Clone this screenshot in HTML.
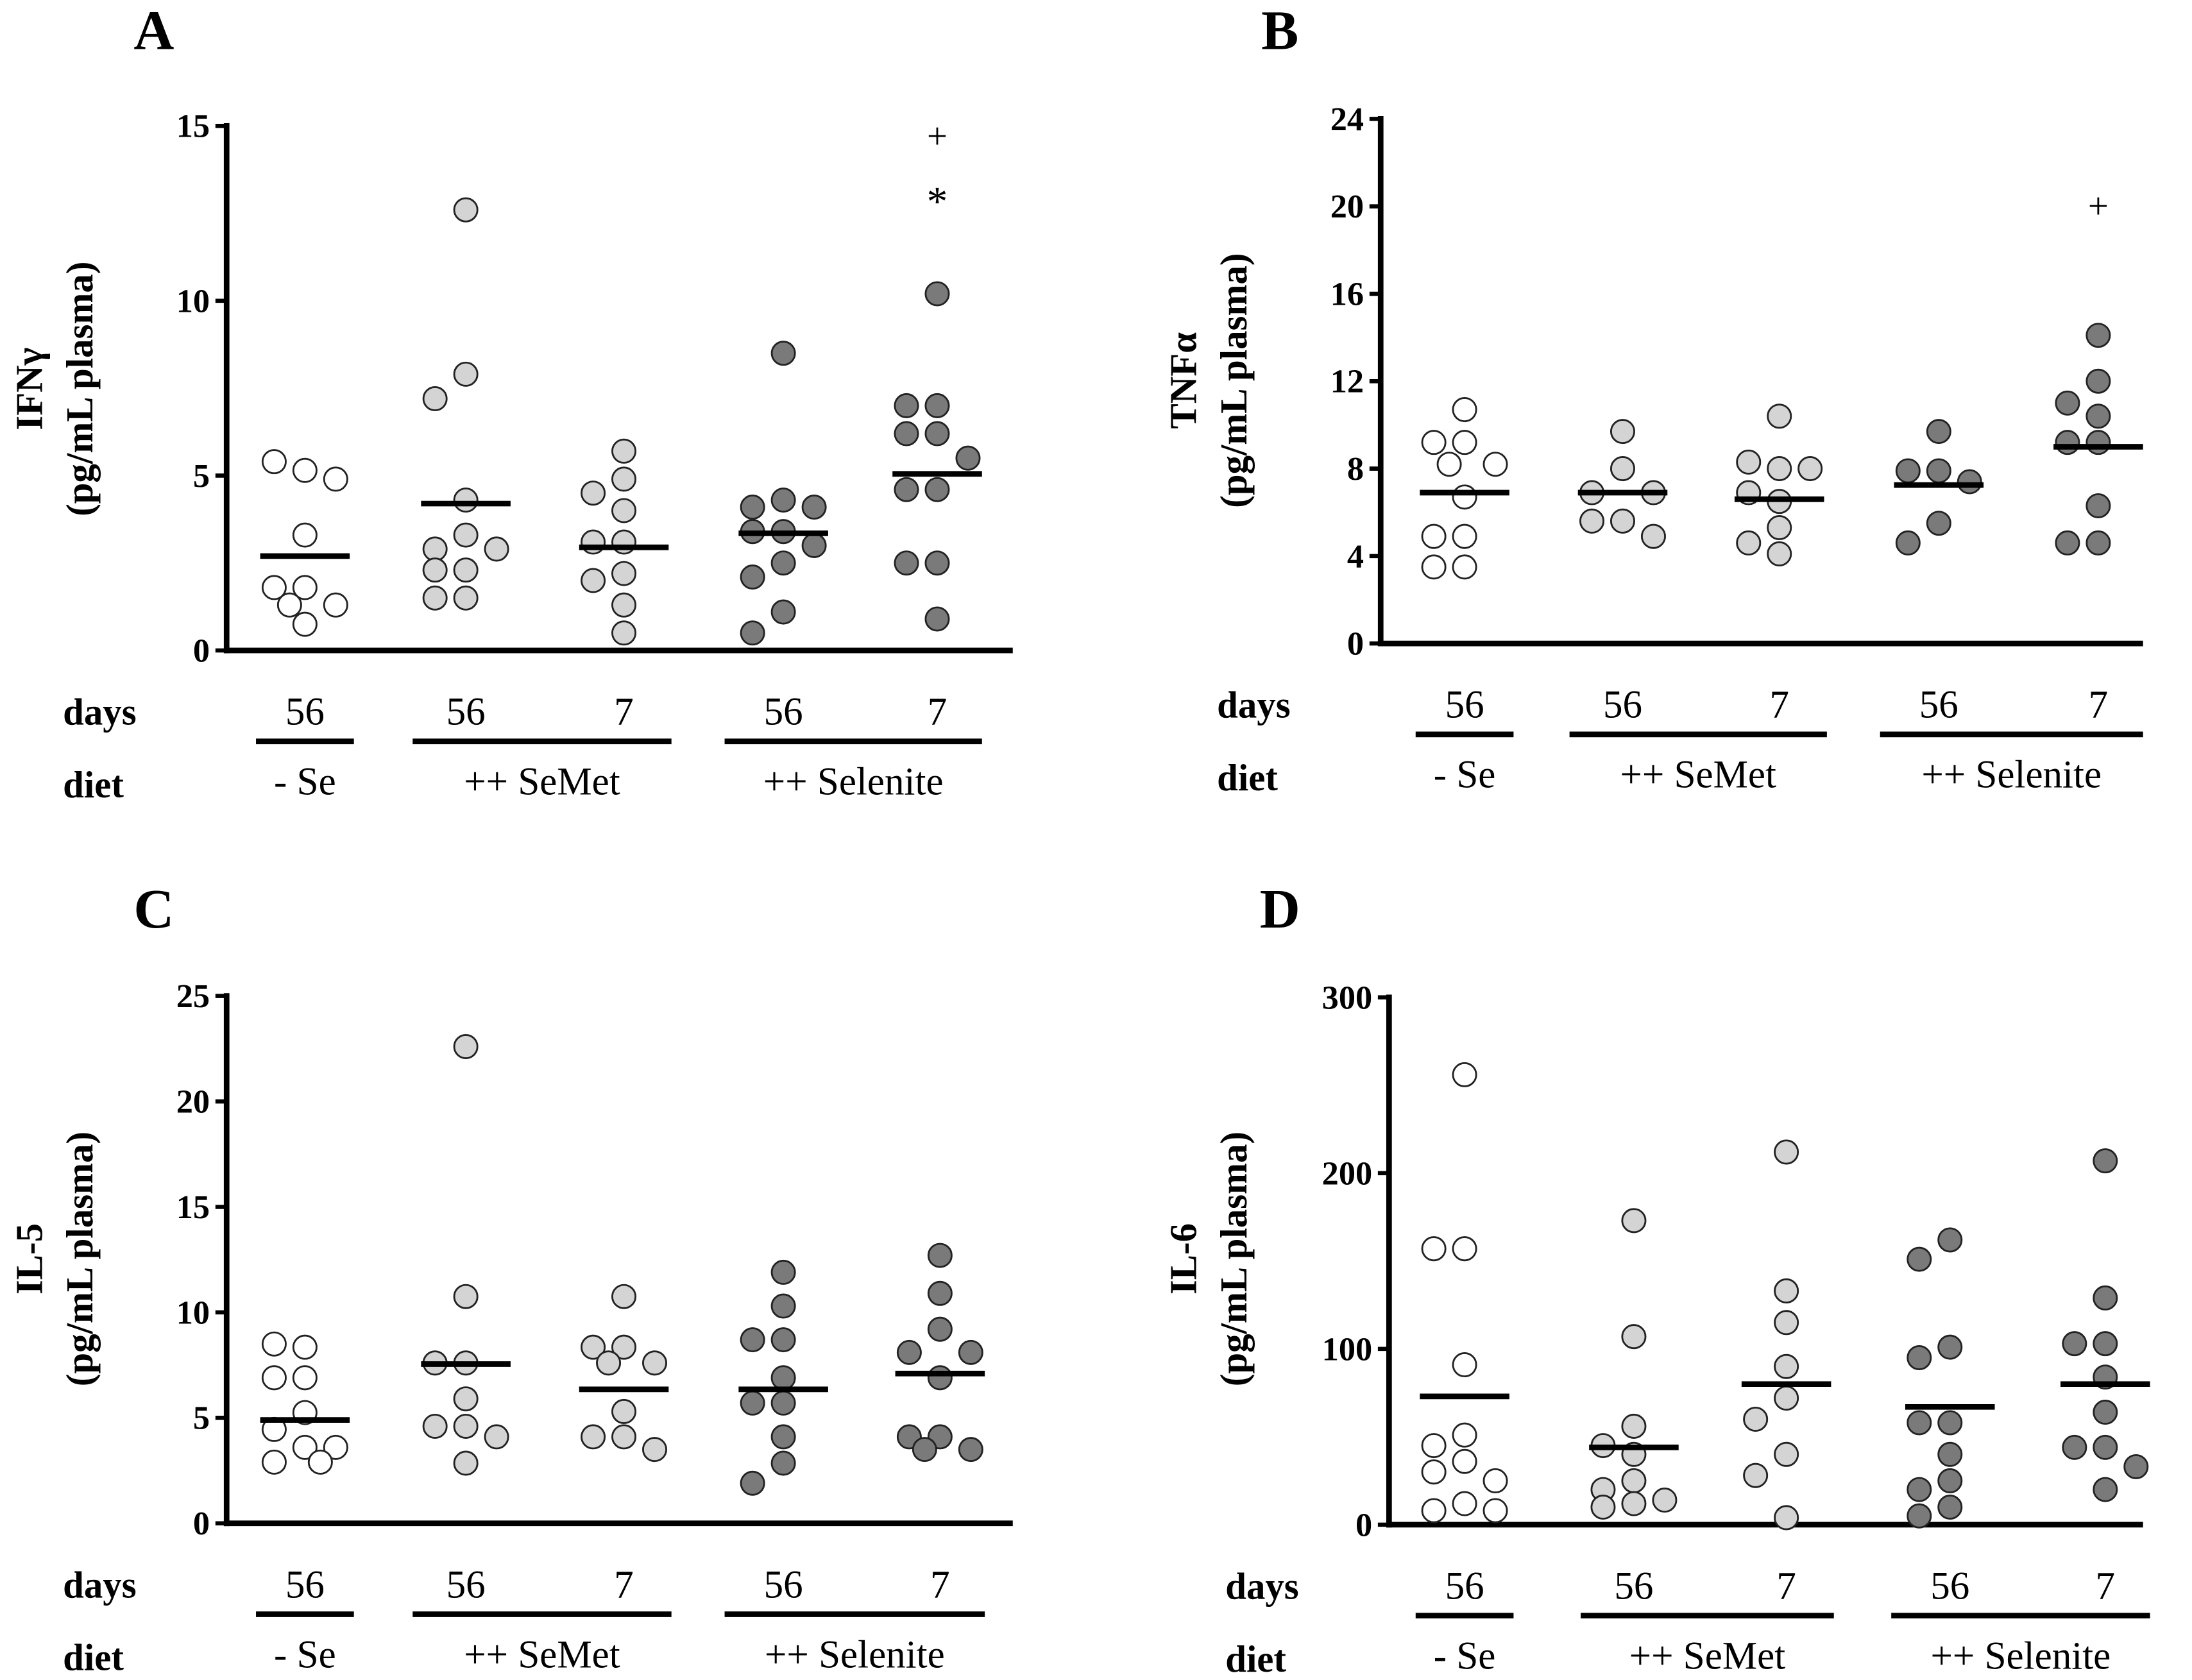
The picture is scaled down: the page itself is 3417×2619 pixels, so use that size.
<!DOCTYPE html>
<html><head><meta charset="utf-8"><style>
html,body{margin:0;padding:0;background:#fff}
svg{display:block}
text{font-family:"Liberation Serif","DejaVu Serif",serif;fill:#000}
</style></head><body>
<svg id="fig" width="3417" height="2619" viewBox="0 0 1567 1201" xmlns="http://www.w3.org/2000/svg"></svg>
<script>
// ---- data ----
const groupsDays = ["56","56","7","56","7"];
const fillKinds = [0,1,1,2,2];
const kindFill = ["#ffffff","#d4d4d4","#7a7a7a"];

const ifnValues = [
  [5.15,5.4,4.9,3.3,1.8,1.8,1.3,1.3,0.75],
  [12.6,7.9,7.2,4.3,3.3,2.9,2.9,2.3,2.3,1.5,1.5],
  [5.7,4.9,4.5,4.0,3.1,3.1,2.2,2.0,1.3,0.5],
  [8.5,4.3,4.1,4.1,3.4,3.4,2.5,2.1,1.1,0.5,3.0],
  [10.2,7.0,7.0,6.2,6.2,5.5,4.6,4.6,2.5,2.5,0.9]
];
const ifnMeans = [2.7,4.2,2.95,3.35,5.05];
const ifnTicks = [0,5,10,15];

const tnfValues = [
  [10.7,9.2,9.2,8.2,8.2,6.7,4.9,4.9,3.5,3.5],
  [9.7,8.0,6.9,6.9,5.6,5.6,4.9],
  [10.4,8.0,8.3,6.9,6.5,5.3,4.6,4.1,8.0],
  [9.7,7.9,7.9,7.4,5.5,4.6],
  [14.1,12.0,11.0,10.4,9.2,9.2,6.3,4.6,4.6]
];
const tnfMeans = [6.9,6.9,6.6,7.25,9.0];
const tnfTicks = [0,4,8,12,16,20,24];

const il5Values = [
  [8.35,8.5,6.9,6.9,5.25,4.45,3.6,3.6,2.9,2.9],
  [22.6,10.75,7.6,7.6,5.9,4.6,4.6,4.1,2.85],
  [10.75,8.35,8.35,7.6,7.6,5.3,4.1,4.1,3.5],
  [11.9,10.3,8.7,8.7,6.9,5.7,5.7,4.1,2.85,1.9],
  [12.7,10.9,9.2,8.1,8.1,6.9,4.1,4.1,3.5,3.5]
];
const il5Means = [4.9,7.55,6.35,6.35,7.1];
const il5Ticks = [0,5,10,15,20,25];

const il6Values = [
  [256,157,157,91,51,45,36,30,25,12,8,8],
  [173,107,56,45,40,25,20,14,12,10],
  [212,133,115,90,72,60,40,28,4],
  [162,151,101,95,58,58,40,25,20,10,5],
  [207,129,103,103,84,64,44,44,33,20]
];
const il6Means = [73,44,80,67,80];
const il6Ticks = [0,100,200,300];

const panels = [
  {letter:"A", title:"IFN\u03b3", vals:ifnValues, means:ifnMeans, ticks:ifnTicks, max:15,
   ax:162, top:90, bot:465, right:724, centers:[218,333,446,560,670], lx:110, ly:35, tx:30, ty:278,
   notes:[["+",98,4],["*",140,4]]},
  {letter:"B", title:"TNF\u03b1", vals:tnfValues, means:tnfMeans, ticks:tnfTicks, max:24,
   ax:987, top:85, bot:460, right:1532, centers:[1047,1160,1272,1386,1500], lx:915, ly:35, tx:855, ty:272,
   notes:[["+",148,4]]},
  {letter:"C", title:"IL-5", vals:il5Values, means:il5Means, ticks:il5Ticks, max:25,
   ax:162, top:712, bot:1089, right:724, centers:[218,333,446,560,672], lx:110, ly:663, tx:30, ty:900, notes:[]},
  {letter:"D", title:"IL-6", vals:il6Values, means:il6Means, ticks:il6Ticks, max:300,
   ax:993, top:713, bot:1090, right:1532, centers:[1047,1168,1277,1394,1505], lx:915, ly:663, tx:855, ty:900, notes:[]}
];

const NS="http://www.w3.org/2000/svg";
const svg=document.getElementById("fig");
function mk(tag,attrs,parent){const e=document.createElementNS(NS,tag);for(const k in attrs)e.setAttribute(k,attrs[k]);(parent||svg).appendChild(e);return e;}
function txt(s,attrs,parent){const e=mk("text",attrs,parent);e.textContent=s;return e;}

panels.forEach((p,pi)=>{
  const g=mk("g",{});
  
  
  const y=v=>p.bot-(v/p.max)*(p.bot-p.top);
  const L=txt(p.letter,{x:p.lx,y:p.ly,"font-size":40,"font-weight":"bold","text-anchor":"middle"},g);
  
  
  const tg=mk("g",{transform:`translate(${p.tx},${p.ty}) rotate(-90)`},g);
  
  
  txt(p.title,{x:0,y:0,"font-size":27,"font-weight":"bold","text-anchor":"middle"},tg);
  txt("(pg/mL plasma)",{x:0,y:36,"font-size":27,"font-weight":"bold","text-anchor":"middle"},tg);
  const ya=mk("line",{x1:p.ax,y1:p.top-2,x2:p.ax,y2:p.bot+2,stroke:"#000","stroke-width":4},g);
  
  
  const xa=mk("line",{x1:p.ax-2,y1:p.bot,x2:p.right,y2:p.bot,stroke:"#000","stroke-width":4},g);
  
  
  p.ticks.forEach(t=>{
    const tk=mk("line",{x1:p.ax-8,y1:y(t),x2:p.ax,y2:y(t),stroke:"#000","stroke-width":3},g);
    
    
    const tl=txt(String(t),{x:p.ax-12,y:y(t)+8,"font-size":24,"font-weight":"bold","text-anchor":"end"},g);
    
    
  });
  const r=8.3;
  p.vals.forEach((arr,gi)=>{
    const placed=[];
    const cx=p.centers[gi];
    arr.forEach(v=>{
      const py=y(v);
      const offs=[0,-22,22,-11,11];
      let best=0,bestD=-1;
      for(const o of offs){
        const dmin=placed.length?Math.min(...placed.map(q=>Math.hypot(q[0]-o,q[1]-py))):999;
        if(dmin>=2*r+1){best=o;bestD=dmin;break;}
        if(dmin>bestD){bestD=dmin;best=o;}
      }
      placed.push([best,py]);
      const c=mk("circle",{cx:cx+best,cy:py,r:r,fill:kindFill[fillKinds[gi]],stroke:"#222","stroke-width":1.3},g);
      
      
    });
    const m=mk("line",{x1:cx-32,x2:cx+32,y1:y(p.means[gi]),y2:y(p.means[gi]),stroke:"#000","stroke-width":4},g);
    
    
    const d=txt(groupsDays[gi],{x:cx,y:p.bot+53,"font-size":28,"text-anchor":"middle"},g);
    
    
  });
  p.notes.forEach(n=>{
    const a=txt(n[0],{x:p.centers[n[2]],y:n[1]+(n[0]=="+"?8:14),"font-size":n[0]=="+"?26:30,"text-anchor":"middle",fill:n[0]=="+"?"#555":"#000"},g);
    
    
  });
  const base=p.bot;
  const dl=txt("days",{x:p.ax-117,y:base+53,"font-size":27,"font-weight":"bold"},g);
  
  
  const el=txt("diet",{x:p.ax-117,y:base+105,"font-size":27,"font-weight":"bold"},g);
  
  
  const c=p.centers;
  const spans=[[c[0]-35,c[0]+35,"- Se"],[c[1]-38,c[2]+34,"++ SeMet"],[c[3]-42,c[4]+32,"++ Selenite"]];
  spans.forEach(s=>{
    const ln=mk("line",{x1:s[0],x2:s[1],y1:base+65,y2:base+65,stroke:"#000","stroke-width":4},g);
    
    
    const dt=txt(s[2],{x:(s[0]+s[1])/2,y:base+103,"font-size":28,"text-anchor":"middle"},g);
    
    
  });
});
</script>
</body></html>
